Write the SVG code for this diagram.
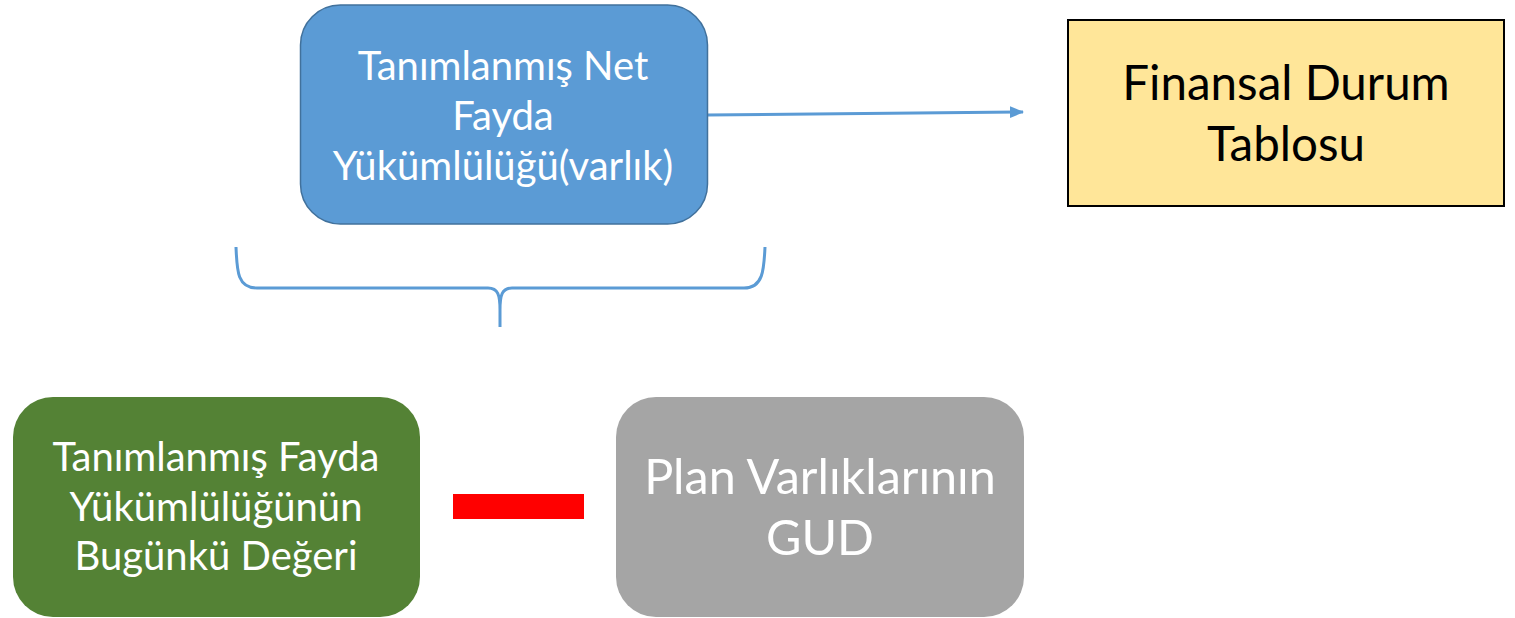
<svg xmlns="http://www.w3.org/2000/svg" width="1515" height="618" viewBox="0 0 1515 618">
<style>
.t{font-family:Lato,"Open Sans","Liberation Sans",sans-serif;text-anchor:middle}
.w{fill:#ffffff}
.b{fill:#000000}
.c{stroke:#5B9BD5;stroke-width:3;fill:none}
</style>
<defs>
<marker id="ah" markerWidth="14" markerHeight="14" refX="13" refY="6" orient="auto" markerUnits="userSpaceOnUse" viewBox="0 0 14 12">
<path d="M0,0 L14,6 L0,12 z" fill="#5B9BD5"/>
</marker>
</defs>
<rect width="1515" height="618" fill="#ffffff"/>
<g id="connectors">
<path class="c" d="M707,115 L1023,112" marker-end="url(#ah)"/>
<path class="c" d="M236,247 C237,270 237,288 257,288 L488,288 C498,288 500,295 500,310 L500,327 M500,310 C500,295 502,288 512,288 L744,288 C763,288 764,270 765,247"/>
<rect x="453" y="494" width="131" height="25" fill="#FF0000"/>
</g>
<g id="node-net">
<rect x="300.5" y="5" width="407" height="219" rx="40" fill="#5B9BD5" stroke="#41719C" stroke-width="1.5"/>
<text class="t w" font-size="40" x="503" y="80">Tanımlanmış Net</text>
<text class="t w" font-size="40" x="503" y="130">Fayda</text>
<text class="t w" font-size="40" x="503" y="180">Yükümlülüğü(varlık)</text>
</g>
<g id="node-finansal">
<rect x="1068" y="20" width="436" height="186" fill="#FFE699" stroke="#000000" stroke-width="2"/>
<text class="t b" font-size="47.5" x="1286" y="100">Finansal Durum</text>
<text class="t b" font-size="47.5" x="1286" y="161">Tablosu</text>
</g>
<g id="node-yukumluluk">
<rect x="13" y="397" width="407" height="220" rx="40" fill="#548235"/>
<text class="t w" font-size="40" x="216" y="471">Tanımlanmış Fayda</text>
<text class="t w" font-size="40" x="216" y="521">Yükümlülüğünün</text>
<text class="t w" font-size="40" x="216" y="570">Bugünkü Değeri</text>
</g>
<g id="node-plan">
<rect x="616" y="397" width="408" height="220" rx="40" fill="#A5A5A5"/>
<text class="t w" font-size="48.5" x="820" y="494">Plan Varlıklarının</text>
<text class="t w" font-size="48.5" x="820" y="555">GUD</text>
</g>
</svg>
